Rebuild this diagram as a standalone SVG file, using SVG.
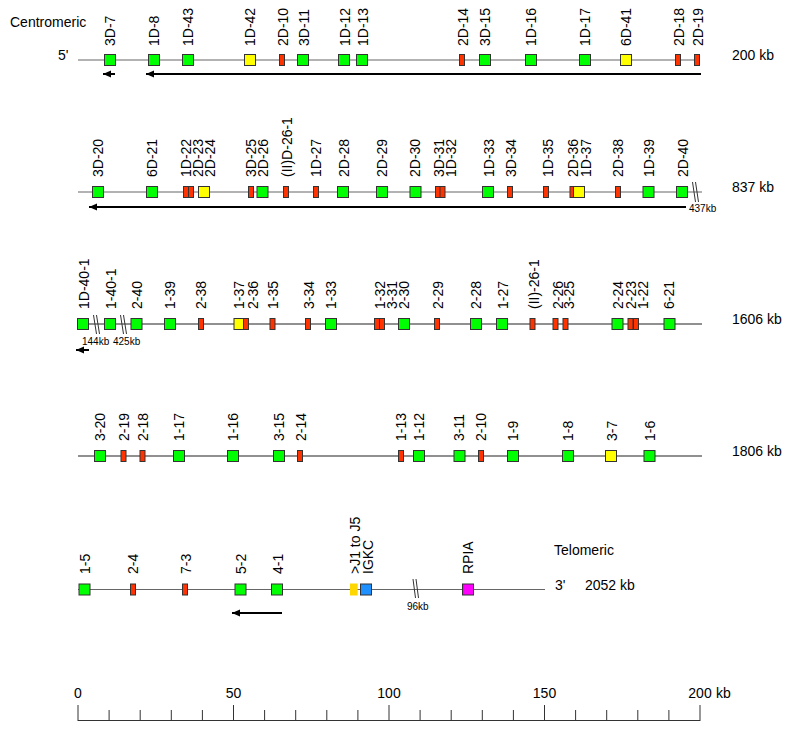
<svg xmlns="http://www.w3.org/2000/svg" width="786" height="731" viewBox="0 0 786 731">
<style>
.t{font-family:"Liberation Sans",Arial,Helvetica,sans-serif;font-size:14px;fill:#000}
.s{font-family:"Liberation Sans",Arial,Helvetica,sans-serif;font-size:10px;fill:#000}
.g{fill:#00ff00;stroke:#333;stroke-width:1}
.r{fill:#ff3300;stroke:#333;stroke-width:1}
.y{fill:#ffff00;stroke:#333;stroke-width:1}
.b{fill:#1e90ff;stroke:#333;stroke-width:1}
.m{fill:#ff00ff;stroke:#333;stroke-width:1}
.j{fill:#ffd700;stroke:none}
.ln{stroke:#666;stroke-width:1.2;fill:none}
.ld{stroke:#222;stroke-width:1.1;fill:none}
.bk{stroke:#333;stroke-width:1;fill:none}
.ar{stroke:#000;stroke-width:2;fill:none;marker-end:url(#ah)}
.sc{stroke:#333;stroke-width:1;fill:none}
</style>
<defs>
<marker id="ah" markerUnits="userSpaceOnUse" markerWidth="9" markerHeight="8" refX="8" refY="3.5" orient="auto">
<path d="M0,0 L8,3.5 L0,7 z" fill="#000"/>
</marker>
</defs>

<g id="texts">
<text class="t" x="10" y="27">Centromeric</text>
<text class="t" x="58" y="60">5'</text>
<text class="t" x="732" y="60">200 kb</text>
<text class="t" x="732" y="192">837 kb</text>
<text class="t" x="732" y="324">1606 kb</text>
<text class="t" x="732" y="456">1806 kb</text>
<text class="t" x="554" y="555">Telomeric</text>
<text class="t" x="555" y="590">3'</text>
<text class="t" x="585" y="590">2052 kb</text>
<text class="s" x="689" y="212">437kb</text>
<text class="s" x="82" y="345">144kb</text>
<text class="s" x="113" y="345">425kb</text>
<text class="s" x="407" y="610">96kb</text>
</g>

<g id="connectors">
<line class="ln" x1="78" y1="60" x2="700" y2="60"/>
<line class="ln" x1="78" y1="192" x2="702" y2="192"/>
<line class="ld" x1="78" y1="324" x2="702" y2="324"/>
<line class="ld" x1="78" y1="456" x2="702" y2="456"/>
<line class="ln" x1="78" y1="589.5" x2="545" y2="589.5"/>
<path class="bk" d="M692.5,182 L695.5,202 M695.5,182 L698.5,202"/>
<path class="bk" d="M93.5,315 L96.5,334 M96.5,315 L99.5,334"/>
<path class="bk" d="M120.5,315 L123.5,334 M123.5,315 L126.5,334"/>
<path class="bk" d="M413,579 L415.5,598 M416,579 L418.5,598"/>
<line class="ar" x1="115" y1="74" x2="103" y2="74"/>
<line class="ar" x1="701" y1="74" x2="146" y2="74"/>
<line class="ar" x1="686" y1="207" x2="89" y2="207"/>
<line class="ar" x1="89" y1="350" x2="76" y2="350"/>
<line class="ar" x1="282" y1="613" x2="232" y2="613"/>
</g>

<g id="row1">
<g id="n3D-7"><rect class="g" x="104.5" y="54.5" width="11" height="11"/><text class="t" transform="translate(115,46) rotate(-90)">3D-7</text></g>
<g id="n1D-8"><rect class="g" x="148.5" y="54.5" width="11" height="11"/><text class="t" transform="translate(158.5,46) rotate(-90)">1D-8</text></g>
<g id="n1D-43"><rect class="g" x="182.5" y="54.5" width="11" height="11"/><text class="t" transform="translate(192.5,46) rotate(-90)">1D-43</text></g>
<g id="n1D-42"><rect class="y" x="244.5" y="54.5" width="11" height="11"/><text class="t" transform="translate(255,46) rotate(-90)">1D-42</text></g>
<g id="n2D-10"><rect class="r" x="279.5" y="54.5" width="5" height="11"/><text class="t" transform="translate(288,46) rotate(-90)">2D-10</text></g>
<g id="n3D-11"><rect class="g" x="297.5" y="54.5" width="11" height="11"/><text class="t" transform="translate(308.5,46) rotate(-90)">3D-11</text></g>
<g id="n1D-12"><rect class="g" x="338.5" y="54.5" width="11" height="11"/><text class="t" transform="translate(350,46) rotate(-90)">1D-12</text></g>
<g id="n1D-13"><rect class="g" x="356.5" y="54.5" width="11" height="11"/><text class="t" transform="translate(367.5,46) rotate(-90)">1D-13</text></g>
<g id="n2D-14"><rect class="r" x="459.5" y="54.5" width="5" height="11"/><text class="t" transform="translate(467.5,46) rotate(-90)">2D-14</text></g>
<g id="n3D-15"><rect class="g" x="479.5" y="54.5" width="11" height="11"/><text class="t" transform="translate(490,46) rotate(-90)">3D-15</text></g>
<g id="n1D-16"><rect class="g" x="525.5" y="54.5" width="11" height="11"/><text class="t" transform="translate(536,46) rotate(-90)">1D-16</text></g>
<g id="n1D-17"><rect class="g" x="579.5" y="54.5" width="11" height="11"/><text class="t" transform="translate(590,46) rotate(-90)">1D-17</text></g>
<g id="n6D-41"><rect class="y" x="620.5" y="54.5" width="11" height="11"/><text class="t" transform="translate(631,46) rotate(-90)">6D-41</text></g>
<g id="n2D-18"><rect class="r" x="675.5" y="54.5" width="5" height="11"/><text class="t" transform="translate(683.5,46) rotate(-90)">2D-18</text></g>
<g id="n2D-19"><rect class="r" x="694.5" y="54.5" width="5" height="11"/><text class="t" transform="translate(702.5,46) rotate(-90)">2D-19</text></g>
</g>

<g id="row2">
<g id="n3D-20"><rect class="g" x="92.5" y="186.5" width="11" height="11"/><text class="t" transform="translate(102.5,177) rotate(-90)">3D-20</text></g>
<g id="n6D-21"><rect class="g" x="146.5" y="186.5" width="11" height="11"/><text class="t" transform="translate(156.5,177) rotate(-90)">6D-21</text></g>
<g id="n1D-22"><rect class="r" x="183.5" y="186.5" width="5" height="11"/><text class="t" transform="translate(190.5,177) rotate(-90)">1D-22</text></g>
<g id="n2D-23"><rect class="r" x="188.5" y="186.5" width="5" height="11"/><text class="t" transform="translate(202.5,177) rotate(-90)">2D-23</text></g>
<g id="n2D-24"><rect class="y" x="198.5" y="186.5" width="11" height="11"/><text class="t" transform="translate(215,177) rotate(-90)">2D-24</text></g>
<g id="n3D-25"><rect class="r" x="248.5" y="186.5" width="5" height="11"/><text class="t" transform="translate(256,177) rotate(-90)">3D-25</text></g>
<g id="n2D-26"><rect class="g" x="257" y="186.5" width="11" height="11"/><text class="t" transform="translate(267.5,177) rotate(-90)">2D-26</text></g>
<g id="nIID-26-1"><rect class="r" x="283.5" y="186.5" width="5" height="11"/><text class="t" transform="translate(292,177) rotate(-90)">(II)D-26-1</text></g>
<g id="n1D-27"><rect class="r" x="313.5" y="186.5" width="5" height="11"/><text class="t" transform="translate(321,177) rotate(-90)">1D-27</text></g>
<g id="n2D-28"><rect class="g" x="337.5" y="186.5" width="11" height="11"/><text class="t" transform="translate(348.5,177) rotate(-90)">2D-28</text></g>
<g id="n2D-29"><rect class="g" x="376.5" y="186.5" width="11" height="11"/><text class="t" transform="translate(387,177) rotate(-90)">2D-29</text></g>
<g id="n2D-30"><rect class="g" x="410" y="186.5" width="11" height="11"/><text class="t" transform="translate(420,177) rotate(-90)">2D-30</text></g>
<g id="n3D-31"><rect class="r" x="435.5" y="186.5" width="5" height="11"/><text class="t" transform="translate(444,177) rotate(-90)">3D-31</text></g>
<g id="n1D-32"><rect class="r" x="440" y="186.5" width="5" height="11"/><text class="t" transform="translate(456,177) rotate(-90)">1D-32</text></g>
<g id="n1D-33"><rect class="g" x="482.5" y="186.5" width="11" height="11"/><text class="t" transform="translate(493.5,177) rotate(-90)">1D-33</text></g>
<g id="n3D-34"><rect class="r" x="507.5" y="186.5" width="5" height="11"/><text class="t" transform="translate(516,177) rotate(-90)">3D-34</text></g>
<g id="n1D-35"><rect class="r" x="543.5" y="186.5" width="5" height="11"/><text class="t" transform="translate(552.5,177) rotate(-90)">1D-35</text></g>
<g id="n2D-36"><rect class="r" x="570" y="186.5" width="5" height="11"/><text class="t" transform="translate(577.5,177) rotate(-90)">2D-36</text></g>
<g id="n1D-37"><rect class="y" x="573.5" y="186.5" width="11" height="11"/><text class="t" transform="translate(591,177) rotate(-90)">1D-37</text></g>
<g id="n2D-38"><rect class="r" x="615.5" y="186.5" width="5" height="11"/><text class="t" transform="translate(623,177) rotate(-90)">2D-38</text></g>
<g id="n1D-39"><rect class="g" x="643" y="186.5" width="11" height="11"/><text class="t" transform="translate(654,177) rotate(-90)">1D-39</text></g>
<g id="n2D-40"><rect class="g" x="676.5" y="186.5" width="11" height="11"/><text class="t" transform="translate(687.5,177) rotate(-90)">2D-40</text></g>
</g>

<g id="row3">
<g id="n1D-40-1"><rect class="g" x="77.5" y="318.5" width="11" height="11"/><text class="t" transform="translate(89,309) rotate(-90)">1D-40-1</text></g>
<g id="n1-40-1"><rect class="g" x="104.5" y="318.5" width="11" height="11"/><text class="t" transform="translate(116,309) rotate(-90)">1-40-1</text></g>
<g id="n2-40"><rect class="g" x="131" y="318.5" width="11" height="11"/><text class="t" transform="translate(142,309) rotate(-90)">2-40</text></g>
<g id="n1-39"><rect class="g" x="164.5" y="318.5" width="11" height="11"/><text class="t" transform="translate(175,309) rotate(-90)">1-39</text></g>
<g id="n2-38"><rect class="r" x="198.5" y="318.5" width="5" height="11"/><text class="t" transform="translate(206,309) rotate(-90)">2-38</text></g>
<g id="n1-37"><rect class="y" x="234" y="318.5" width="11" height="11"/><text class="t" transform="translate(244,309) rotate(-90)">1-37</text></g>
<g id="n2-36"><rect class="r" x="243.5" y="318.5" width="5" height="11"/><text class="t" transform="translate(257.5,309) rotate(-90)">2-36</text></g>
<g id="n1-35"><rect class="r" x="270" y="318.5" width="5" height="11"/><text class="t" transform="translate(277.5,309) rotate(-90)">1-35</text></g>
<g id="n3-34"><rect class="r" x="305.5" y="318.5" width="5" height="11"/><text class="t" transform="translate(314,309) rotate(-90)">3-34</text></g>
<g id="n1-33"><rect class="g" x="325.5" y="318.5" width="11" height="11"/><text class="t" transform="translate(336,309) rotate(-90)">1-33</text></g>
<g id="n1-32"><rect class="r" x="374.5" y="318.5" width="5" height="11"/><text class="t" transform="translate(385,309) rotate(-90)">1-32</text></g>
<g id="n3-31"><rect class="r" x="379.5" y="318.5" width="5" height="11"/><text class="t" transform="translate(396.7,309) rotate(-90)">3-31</text></g>
<g id="n2-30"><rect class="g" x="398.5" y="318.5" width="11" height="11"/><text class="t" transform="translate(409,309) rotate(-90)">2-30</text></g>
<g id="n2-29"><rect class="r" x="434.5" y="318.5" width="5" height="11"/><text class="t" transform="translate(442.5,309) rotate(-90)">2-29</text></g>
<g id="n2-28"><rect class="g" x="470.5" y="318.5" width="11" height="11"/><text class="t" transform="translate(481,309) rotate(-90)">2-28</text></g>
<g id="n1-27"><rect class="g" x="496.5" y="318.5" width="11" height="11"/><text class="t" transform="translate(507.5,309) rotate(-90)">1-27</text></g>
<g id="nII-26-1"><rect class="r" x="530" y="318.5" width="5" height="11"/><text class="t" transform="translate(539,309) rotate(-90)">(II)-26-1</text></g>
<g id="n2-26"><rect class="r" x="553" y="318.5" width="5" height="11"/><text class="t" transform="translate(562.5,309) rotate(-90)">2-26</text></g>
<g id="n3-25"><rect class="r" x="563" y="318.5" width="5" height="11"/><text class="t" transform="translate(574,309) rotate(-90)">3-25</text></g>
<g id="n2-24"><rect class="g" x="612" y="318.5" width="11" height="11"/><text class="t" transform="translate(622.5,309) rotate(-90)">2-24</text></g>
<g id="n2-23"><rect class="r" x="628" y="318.5" width="5" height="11"/><text class="t" transform="translate(636,309) rotate(-90)">2-23</text></g>
<g id="n1-22"><rect class="r" x="633.5" y="318.5" width="5" height="11"/><text class="t" transform="translate(647.5,309) rotate(-90)">1-22</text></g>
<g id="n6-21"><rect class="g" x="664" y="318.5" width="11" height="11"/><text class="t" transform="translate(674,309) rotate(-90)">6-21</text></g>
</g>

<g id="row4">
<g id="n3-20"><rect class="g" x="94.5" y="450.5" width="11" height="11"/><text class="t" transform="translate(105,441) rotate(-90)">3-20</text></g>
<g id="n2-19"><rect class="r" x="121" y="450.5" width="5" height="11"/><text class="t" transform="translate(129,441) rotate(-90)">2-19</text></g>
<g id="n2-18"><rect class="r" x="140" y="450.5" width="5" height="11"/><text class="t" transform="translate(147.5,441) rotate(-90)">2-18</text></g>
<g id="n1-17"><rect class="g" x="173.5" y="450.5" width="11" height="11"/><text class="t" transform="translate(184,441) rotate(-90)">1-17</text></g>
<g id="n1-16"><rect class="g" x="227.5" y="450.5" width="11" height="11"/><text class="t" transform="translate(238,441) rotate(-90)">1-16</text></g>
<g id="n3-15"><rect class="g" x="273.5" y="450.5" width="11" height="11"/><text class="t" transform="translate(284,441) rotate(-90)">3-15</text></g>
<g id="n2-14"><rect class="r" x="297.5" y="450.5" width="5" height="11"/><text class="t" transform="translate(306,441) rotate(-90)">2-14</text></g>
<g id="n1-13"><rect class="r" x="398.5" y="450.5" width="5" height="11"/><text class="t" transform="translate(406,441) rotate(-90)">1-13</text></g>
<g id="n1-12"><rect class="g" x="413.5" y="450.5" width="11" height="11"/><text class="t" transform="translate(424,441) rotate(-90)">1-12</text></g>
<g id="n3-11"><rect class="g" x="454" y="450.5" width="11" height="11"/><text class="t" transform="translate(464,441) rotate(-90)">3-11</text></g>
<g id="n2-10"><rect class="r" x="478.5" y="450.5" width="5" height="11"/><text class="t" transform="translate(486,441) rotate(-90)">2-10</text></g>
<g id="n1-9"><rect class="g" x="507.5" y="450.5" width="11" height="11"/><text class="t" transform="translate(518,441) rotate(-90)">1-9</text></g>
<g id="n1-8"><rect class="g" x="562.5" y="450.5" width="11" height="11"/><text class="t" transform="translate(573,441) rotate(-90)">1-8</text></g>
<g id="n3-7"><rect class="y" x="605.5" y="450.5" width="11" height="11"/><text class="t" transform="translate(616.5,441) rotate(-90)">3-7</text></g>
<g id="n1-6"><rect class="g" x="644" y="450.5" width="11" height="11"/><text class="t" transform="translate(655,441) rotate(-90)">1-6</text></g>
</g>

<g id="row5">
<g id="n1-5"><rect class="g" x="79" y="584" width="11" height="11"/><text class="t" transform="translate(90,574) rotate(-90)">1-5</text></g>
<g id="n2-4"><rect class="r" x="130.5" y="584" width="5" height="11"/><text class="t" transform="translate(138,574) rotate(-90)">2-4</text></g>
<g id="n7-3"><rect class="r" x="182.5" y="584" width="5" height="11"/><text class="t" transform="translate(190.5,574) rotate(-90)">7-3</text></g>
<g id="n5-2"><rect class="g" x="235" y="584" width="11" height="11"/><text class="t" transform="translate(246,574) rotate(-90)">5-2</text></g>
<g id="n4-1"><rect class="g" x="271.5" y="584" width="11" height="11"/><text class="t" transform="translate(282.5,574) rotate(-90)">4-1</text></g>
<g id="nJ1-J5"><rect class="j" x="350" y="583.5" width="7.7" height="12"/><text class="t" transform="translate(360,574) rotate(-90)">&gt;J1 to J5</text></g>
<g id="nIGKC"><rect class="b" x="360.5" y="584" width="11" height="11"/><text class="t" transform="translate(372.5,574) rotate(-90)">IGKC</text></g>
<g id="nRPIA"><rect class="m" x="462.5" y="584" width="11" height="11"/><text class="t" transform="translate(472.5,574) rotate(-90)">RPIA</text></g>
</g>

<g id="scale">
<path class="sc" d="M78,720.5 H700 M78,705 V721 M109.1,710 V721 M140.2,710 V721 M171.3,710 V721 M202.4,710 V721 M233.5,705 V721 M264.6,710 V721 M295.7,710 V721 M326.8,710 V721 M357.9,710 V721 M389,705 V721 M420.1,710 V721 M451.2,710 V721 M482.3,710 V721 M513.4,710 V721 M544.5,705 V721 M575.6,710 V721 M606.7,710 V721 M637.8,710 V721 M668.9,710 V721 M700,705 V721"/>
<text class="t" x="78" y="698" text-anchor="middle">0</text>
<text class="t" x="233.5" y="698" text-anchor="middle">50</text>
<text class="t" x="389" y="698" text-anchor="middle">100</text>
<text class="t" x="544.5" y="698" text-anchor="middle">150</text>
<text class="t" x="700" y="698" text-anchor="middle">200</text>
<text class="t" x="716" y="698">kb</text>
</g>
</svg>
